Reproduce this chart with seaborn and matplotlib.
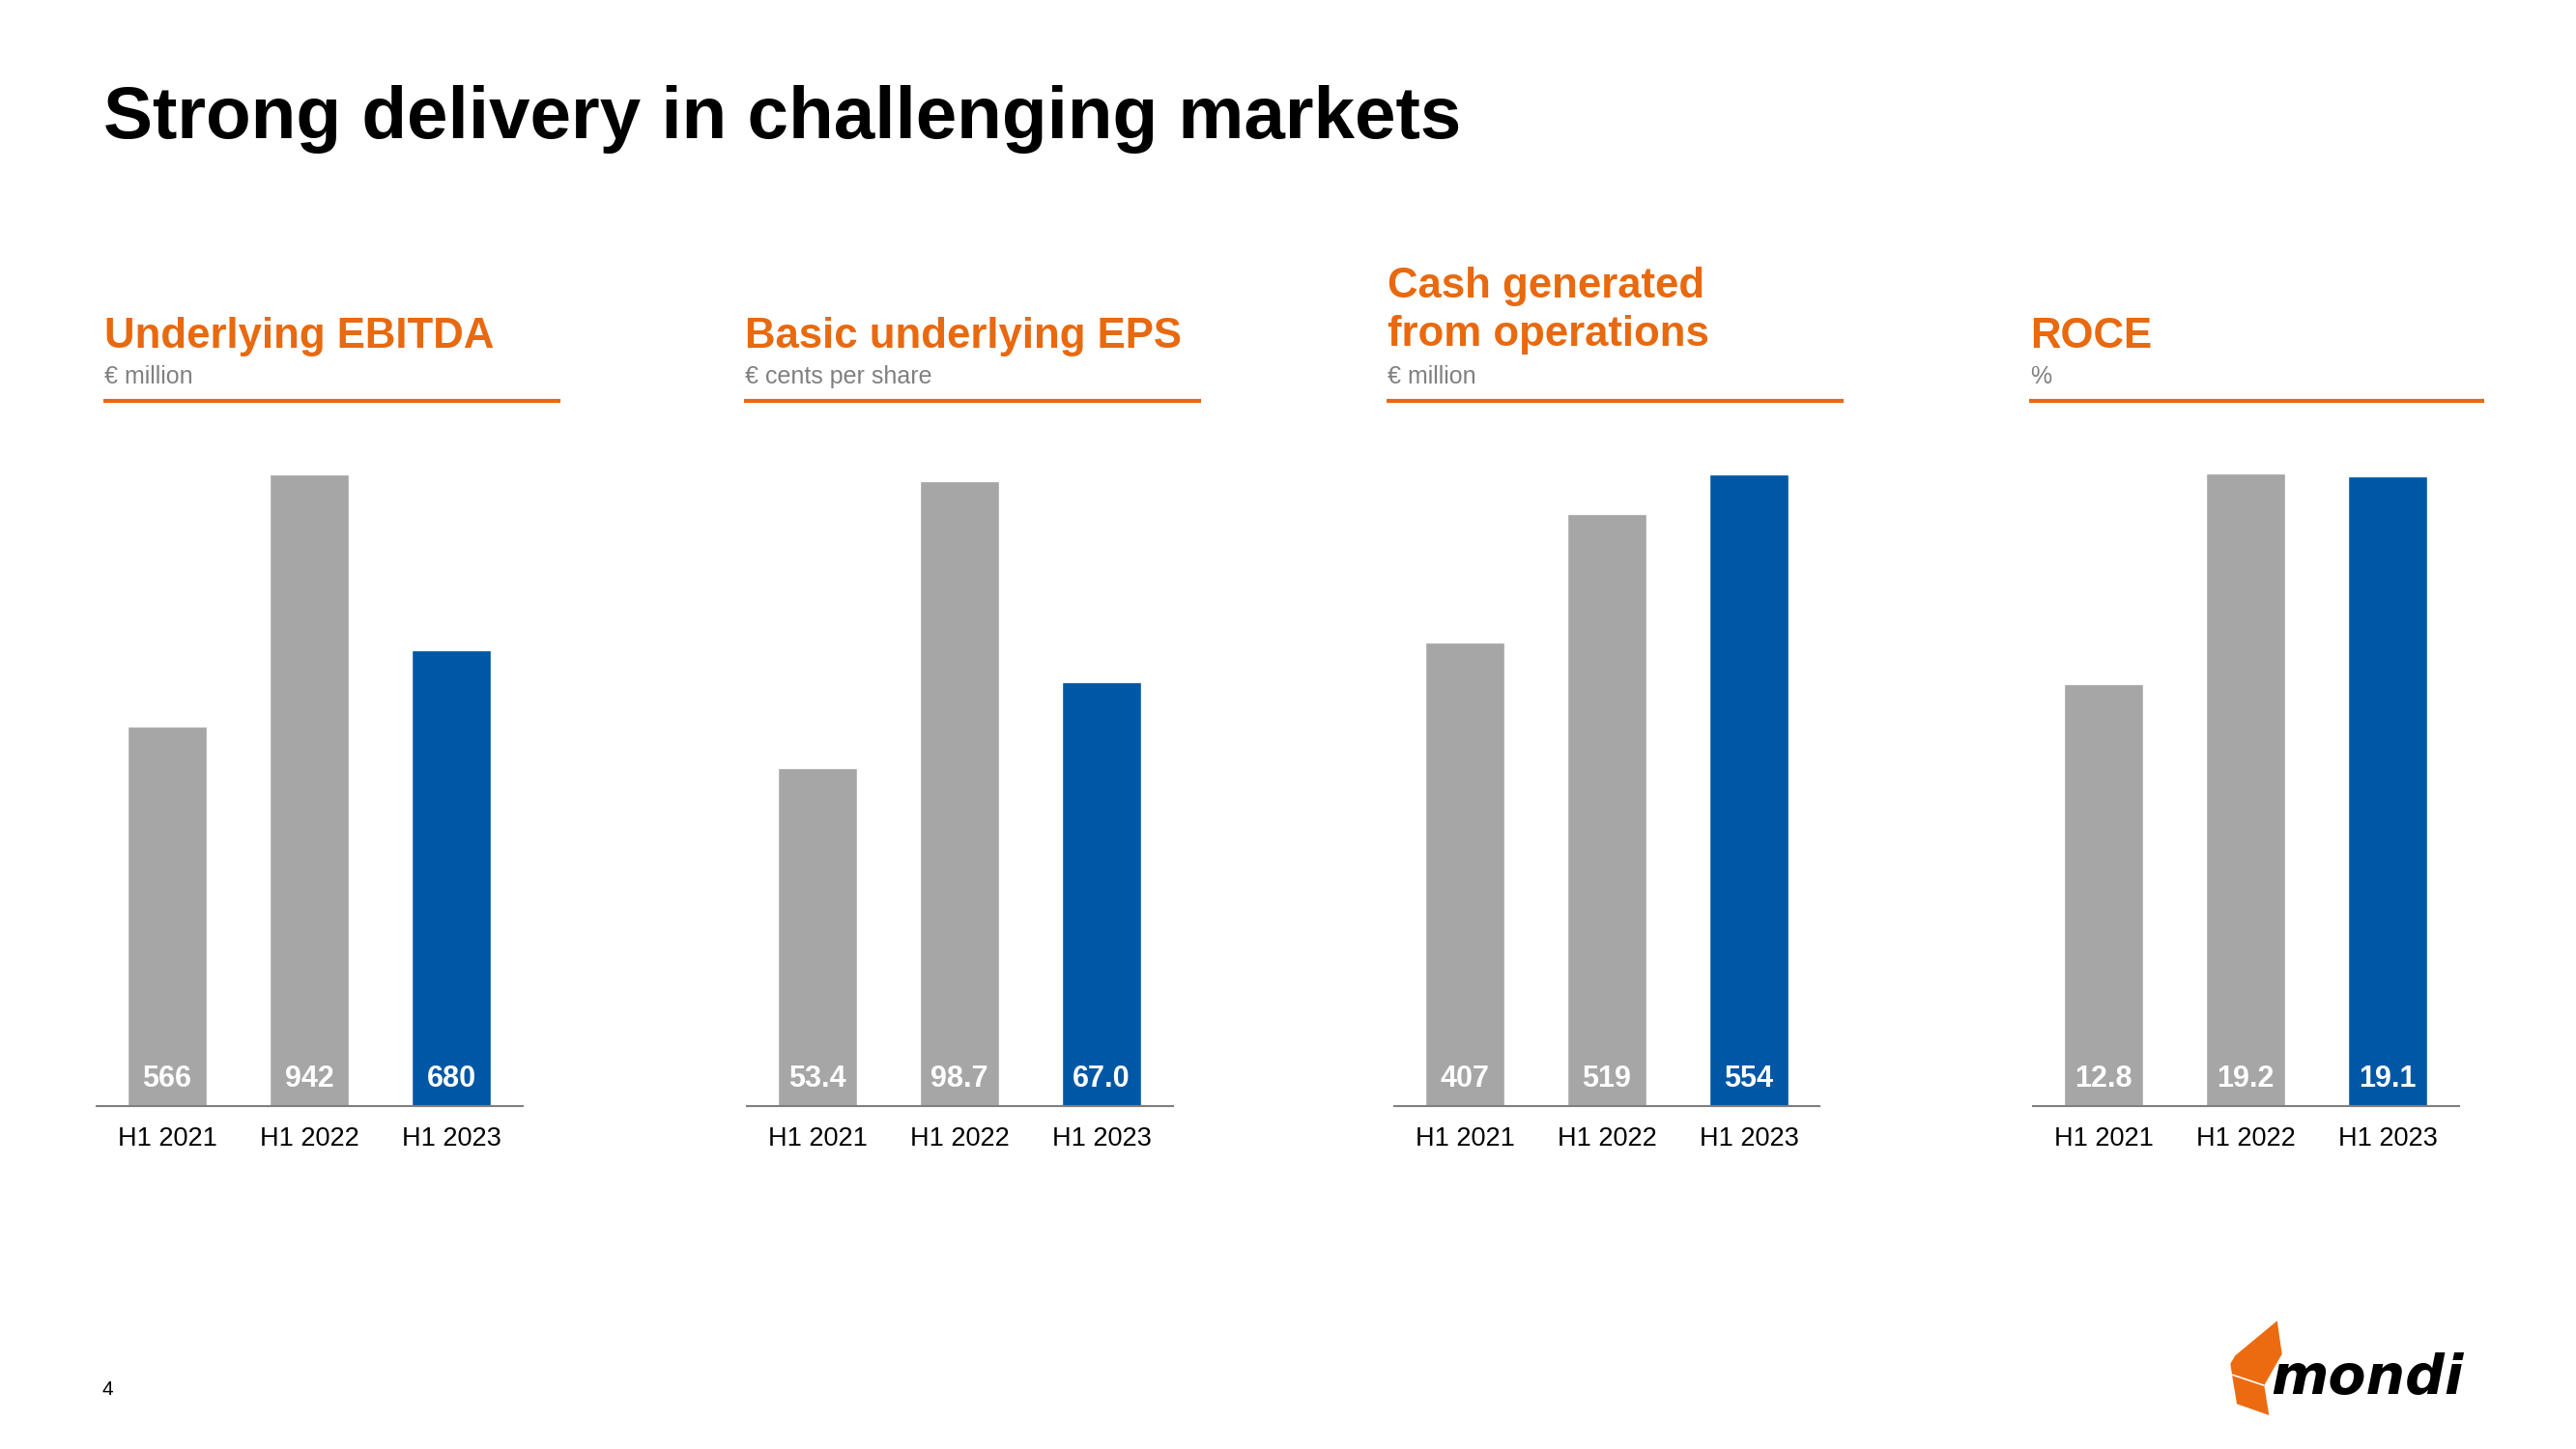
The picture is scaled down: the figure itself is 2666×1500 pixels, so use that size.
import matplotlib
matplotlib.use("Agg")
import matplotlib.pyplot as plt
import seaborn as sns
import pandas as pd
from matplotlib.lines import Line2D
from matplotlib.patches import Polygon

# ---------------- data ----------------
periods = ["H1 2021", "H1 2022", "H1 2023"]
ebitda = [566, 942, 680]
eps = [53.4, 98.7, 67.0]
cash_ops = [407, 519, 554]
roce = [12.8, 19.2, 19.1]
value_labels = [["566", "942", "680"], ["53.4", "98.7", "67.0"],
                ["407", "519", "554"], ["12.8", "19.2", "19.1"]]
headers = [["Underlying EBITDA"], ["Basic underlying EPS"],
           ["Cash generated", "from operations"], ["ROCE"]]
units = ["€ million", "€ cents per share", "€ million", "%"]
title = "Strong delivery in challenging markets"

# ---------------- style ----------------
sns.set_theme(style="white")
plt.rcParams["font.family"] = ["Liberation Sans", "DejaVu Sans"]

W, H = 2666, 1500
fig = plt.figure(figsize=(W / 100, H / 100), dpi=100)
fig.patch.set_facecolor("white")

def fx(x):
    return x / W

def fy(y):
    return 1 - y / H

ORANGE = "#E8690F"
GREY_BAR = "#A6A6A6"
BLUE = "#0057A5"
AXIS_GREY = "#7F7F7F"

series = [ebitda, eps, cash_ops, roce]
centers = [320, 993, 1663, 2324]          # middle-bar centre (px)
line_x = [(107, 580), (770, 1243), (1435, 1908), (2100, 2571)]
top_px = [491, 498, 491, 490]             # pixel row reached by tallest bar
spacing = 147
base_y = 1145

fig.text(fx(107), fy(143), title, fontsize=55, fontweight="bold",
         color="black", va="baseline", ha="left")

for i, vals in enumerate(series):
    left = centers[i] - 1.5 * spacing
    top_y = top_px[i]
    ax = fig.add_axes([fx(left), fy(base_y), 3 * spacing / W, (base_y - top_y) / H])
    df = pd.DataFrame({"period": periods, "value": vals})
    sns.barplot(data=df, x="period", y="value", hue="period",
                palette=[GREY_BAR, GREY_BAR, BLUE], legend=False,
                width=0.558, ax=ax, saturation=1)
    ax.set_xlim(-0.5, 2.5)
    ax.set_ylim(0, max(vals))
    ax.set_xlabel("")
    ax.set_ylabel("")
    ax.set_yticks([])
    for s in ["left", "right", "top"]:
        ax.spines[s].set_visible(False)
    ax.spines["bottom"].set_color(AXIS_GREY)
    ax.spines["bottom"].set_linewidth(1.5)
    ax.tick_params(axis="x", length=0, pad=15, labelsize=19.5, labelcolor="black")
    ax.set_facecolor("none")
    frac = 20 / (base_y - top_y)
    for j, lab in enumerate(value_labels[i]):
        ax.text(j, frac, lab, transform=ax.get_xaxis_transform(),
                ha="center", va="baseline", color="white",
                fontsize=22, fontweight="bold")

    # header
    hx = line_x[i][0] + 1
    lines = headers[i]
    if len(lines) == 1:
        fig.text(fx(hx), fy(360), lines[0], fontsize=31.5, fontweight="bold",
                 color=ORANGE, va="baseline", ha="left")
    else:
        fig.text(fx(hx), fy(308), lines[0], fontsize=31.5, fontweight="bold",
                 color=ORANGE, va="baseline", ha="left")
        fig.text(fx(hx), fy(358), lines[1], fontsize=31.5, fontweight="bold",
                 color=ORANGE, va="baseline", ha="left")
    fig.text(fx(hx), fy(397), units[i], fontsize=18, color="#808080",
             va="baseline", ha="left")
    fig.add_artist(Line2D([fx(line_x[i][0]), fx(line_x[i][1])], [fy(415), fy(415)],
                          color=ORANGE, linewidth=3, transform=fig.transFigure,
                          solid_capstyle="butt"))

# page number
fig.text(fx(105), fy(1438), "4", fontsize=15, color="black", va="center", ha="left")

# logo
logo_pts = [(2356.7, 1367.3), (2361.7, 1401.7), (2343.3, 1434), (2348.3, 1465),
            (2315, 1453.3), (2310.7, 1427.3), (2308.3, 1411.7), (2313.3, 1403.3)]
fig.add_artist(Polygon([(fx(x), fy(y)) for x, y in logo_pts], closed=True,
                       facecolor="#EC6B10", edgecolor="none",
                       transform=fig.transFigure))
fig.add_artist(Line2D([fx(2310.7), fx(2342.7)], [fy(1423.3), fy(1434)],
                      color="white", linewidth=1.2, transform=fig.transFigure))
fig.text(fx(2350), fy(1443), "mondi", fontsize=41, fontweight="bold",
         fontstyle="italic", color="black", va="baseline", ha="left",
         family=["DejaVu Sans"])

fig.savefig("out.png", dpi=100, facecolor="white")
